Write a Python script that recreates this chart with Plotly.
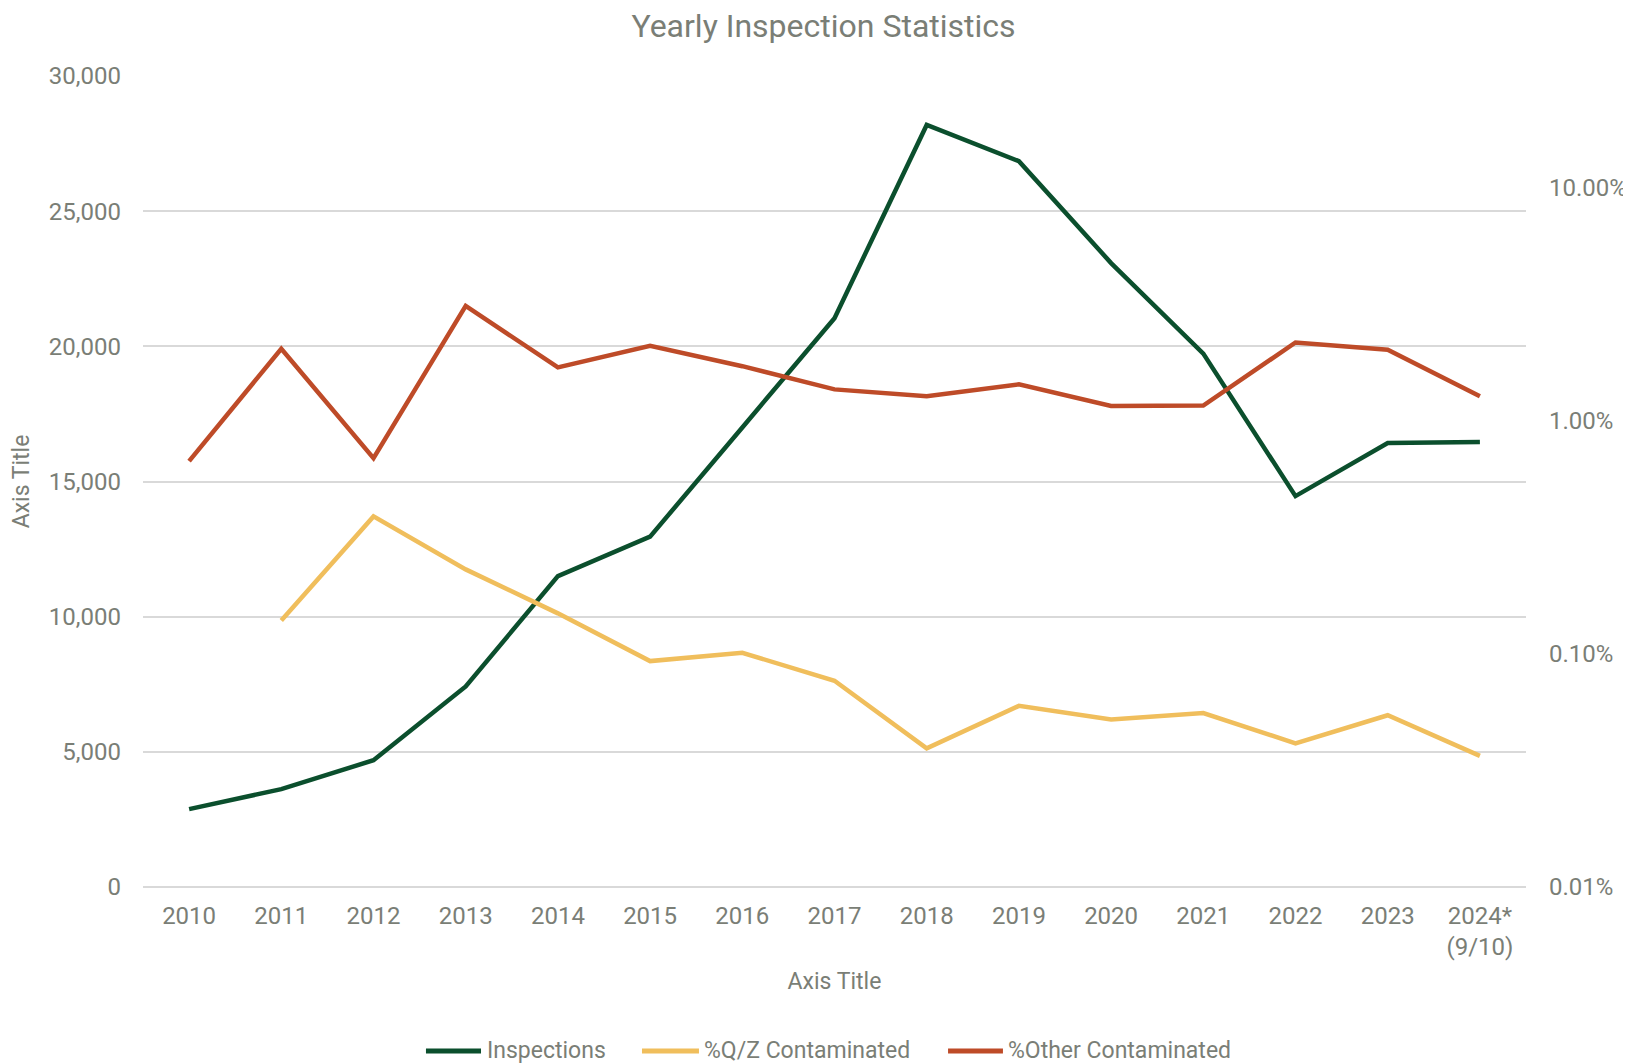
import plotly.graph_objects as go

years = ["2010", "2011", "2012", "2013", "2014", "2015", "2016", "2017",
         "2018", "2019", "2020", "2021", "2022", "2023", "2024*<br>(9/10)"]
inspections = [2880, 3620, 4690, 7420, 11500, 12960, 17000, 21040,
               28190, 26850, 23080, 19730, 14460, 16420, 16460]
qz_contaminated = [None, 0.00139, 0.00388, 0.0023, 0.00149, 0.00093, 0.00101, 0.000766,
                   0.000393, 0.000598, 0.000523, 0.000557, 0.000413, 0.000545, 0.000365]
other_contaminated = [0.0067, 0.0203, 0.0069, 0.031, 0.0169, 0.0209, 0.0171, 0.0136,
                      0.0127, 0.0143, 0.01155, 0.0116, 0.0216, 0.0201, 0.0127]
right_ticks = [0.0001, 0.001, 0.01, 0.1]
right_ticktext = ["0.01%", "0.10%", "1.00%", "10.00%"]

series_names = ["Inspections", "%Q/Z Contaminated", "%Other Contaminated"]
series_colors = ["#0B4F2D", "#F0BE5C", "#BE4B28"]

FONT = "Roboto, sans-serif"
TXT = "#7A7E76"

fig = go.Figure()
fig.add_trace(go.Scatter(x=years, y=inspections, name=series_names[0], mode="lines",
                         line=dict(color=series_colors[0], width=4.5), yaxis="y"))
fig.add_trace(go.Scatter(x=years, y=qz_contaminated, name=series_names[1], mode="lines",
                         line=dict(color=series_colors[1], width=4.5), yaxis="y2"))
fig.add_trace(go.Scatter(x=years, y=other_contaminated, name=series_names[2], mode="lines",
                         line=dict(color=series_colors[2], width=4.5), yaxis="y2"))

# Legend drawn manually (Excel-style long symbols, spaced entries)
leg_y = -0.2022
leg_sym = [(0.2046, 0.2444), (0.3608, 0.4020), (0.5821, 0.6218)]
leg_txt = [0.2473, 0.4042, 0.6240]
for (x0, x1), xt, name, col in zip(leg_sym, leg_txt, series_names, series_colors):
    fig.add_shape(type="line", xref="paper", yref="paper", x0=x0, x1=x1, y0=leg_y, y1=leg_y,
                  line=dict(color=col, width=5))
    fig.add_annotation(xref="paper", yref="paper", x=xt, y=leg_y, text=name, showarrow=False,
                       xanchor="left", yanchor="middle", font=dict(size=23, color=TXT, family=FONT))

fig.update_layout(
    width=1631, height=1063,
    margin=dict(l=135, r=113, t=68, b=184),
    paper_bgcolor="white", plot_bgcolor="white",
    font=dict(family=FONT, color=TXT, size=24),
    showlegend=False,
    title=dict(text="Yearly Inspection Statistics", x=0.5, xref="container", xanchor="center",
               y=0.9835, yref="container", yanchor="middle",
               font=dict(size=32, color="#7A7E76", family=FONT)),
    xaxis=dict(type="category", range=[-0.5, 14.5], showgrid=False, showline=False,
               ticks="", tickfont=dict(size=24, color=TXT), ticklabelstandoff=12,
               title=dict(text="Axis Title", standoff=12, font=dict(size=23, color=TXT))),
    yaxis=dict(range=[0, 30000], dtick=5000, tickformat=",", showgrid=True,
               gridcolor="#D9D9D9", gridwidth=2, zeroline=True, zerolinecolor="#D9D9D9",
               zerolinewidth=2, showline=False, ticks="", ticklabelstandoff=21,
               tickfont=dict(size=24, color=TXT),
               title=dict(text="Axis Title", standoff=12, font=dict(size=23, color=TXT))),
    yaxis2=dict(type="log", overlaying="y", side="right", range=[-4, -0.5229],
                tickvals=right_ticks, ticktext=right_ticktext, showgrid=False,
                zeroline=False, showline=False, ticks="", ticklabelstandoff=22,
                tickfont=dict(size=24, color=TXT)),
)

fig.write_html("out.html")
